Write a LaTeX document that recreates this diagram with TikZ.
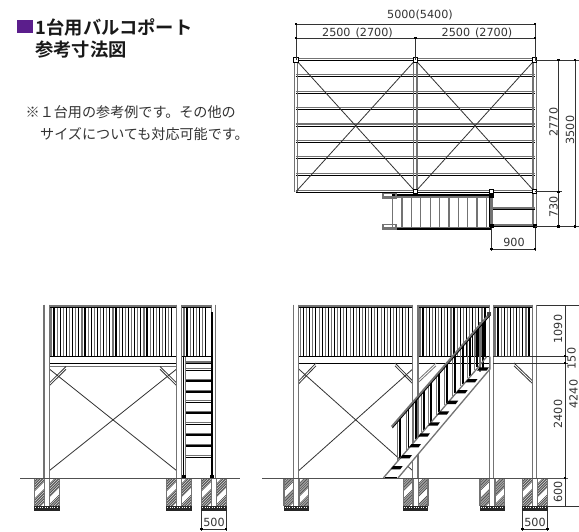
\documentclass[tikz,border=0pt]{standalone}
\usepackage{fontspec}
\setmainfont{DejaVu Sans}
\newfontfamily\jpb{Noto Sans CJK JP Bold}
\newfontfamily\jpr{Noto Sans CJK JP}
\definecolor{gl}{gray}{0.45}
\definecolor{ink}{gray}{0.2}
\definecolor{pur}{HTML}{5B1E8C}
\tikzset{
  blk/.style={line width=1.05pt,black},
  gry/.style={line width=1.3pt,gl},
  thin line/.style={line width=0.8pt,ink},
  dimline/.style={line width=0.65pt,ink},
  dimtext/.style={font=\fontsize{11.2}{12}\selectfont,text=ink,inner sep=0pt},
  postsq/.style={line width=1.1pt,black,fill=white},
  heavy/.style={line width=1.5pt,black}
}
\newcommand{\dimtick}[2]{\fill[black] (#1-1.4,#2-1.1) rectangle (#1+1.4,#2+1.1);}
\newcommand{\vpost}[4]{% xl xr ytop ybot
  \fill[white] (#1,#3) rectangle (#2,#4);
  \draw[gry] (#1,#3) -- (#1,#4);
  \draw[gry] (#2,#3) -- (#2,#4);}
\newcommand{\footing}[1]{% left x, width 24.5
  \begin{scope}
    \clip (#1,478) rectangle (#1+24.5,506);
    \foreach \k in {0,...,36}{
      \pgfmathtruncatemacro{\d}{mod(\k,13)<9?1:0}
      \ifnum\d=1
        \draw[line width=0.55pt,ink] (#1-2,480+\k*1.6) -- (#1+40,480+\k*1.6-42);
      \fi
    }
  \end{scope}
  \draw[gry] (#1,478) -- (#1,506) (#1+24.5,478) -- (#1+24.5,506);
  \fill[white] (#1+9.6,478) rectangle (#1+14.9,506);
  \draw[gry] (#1+9.6,478) -- (#1+9.6,506) (#1+14.9,478) -- (#1+14.9,506);
  \fill[black!85] (#1-0.5,506) rectangle (#1+25,511);
  \draw[white,line width=0.7pt,dash pattern=on 1pt off 1.4pt] (#1+0.5,507.6) -- (#1+24,507.6);
}
\newcommand{\balusters}[3]{% xstart xnext xend
  \foreach \x in {#1,#2,...,#3}{
    \draw[gry,line width=1.1pt] (\x,307) -- (\x,356);
    \draw[blk] (\x+3,307) -- (\x+3,356);
  }}
\begin{document}
\begin{tikzpicture}[x=1pt,y=-1pt]
\useasboundingbox (0,0) rectangle (579,532);
\fill[white] (0,0) rectangle (579,532);
% ---- texts
\fill[pur] (17,20) rectangle (32.5,33.5);
\node[anchor=west,inner sep=0pt,font=\jpb\fontsize{18.3}{20}\selectfont,text=black!90] (title1) at (35.5,27.5) {1台用バルコポート};
\node[anchor=west,inner sep=0pt,font=\jpb\fontsize{18.3}{20}\selectfont,text=black!90] (title2) at (35,50) {参考寸法図};
\node[anchor=west,inner sep=0pt,font=\jpr\fontsize{14.1}{15}\selectfont,text=ink] (note1) at (25.5,112) {※１台用の参考例です。その他の};
\node[anchor=west,inner sep=0pt,font=\jpr\fontsize{14.1}{15}\selectfont,text=ink] (note2) at (40,134) {サイズについても対応可能です。};
% ---- plan view
\foreach \y in {60,76,92.7,109,125.5,142,158.3,175,191.7}{
  \draw[gry] (296,\y-1.5) -- (534.7,\y-1.5);
  \draw[blk] (296,\y+0.6) -- (534.7,\y+0.6);
}
\draw[gry] (294.4,60) -- (294.4,191.7) (297.6,60) -- (297.6,191.7);
\draw[gry] (413.8,60) -- (413.8,191.7) (417,60) -- (417,191.7);
\draw[gry] (533.1,60) -- (533.1,226.5) (536.3,60) -- (536.3,226.5);
\draw[thin line] (296,60) -- (415.4,191.7) (415.4,60) -- (296,191.7);
\draw[thin line] (415.4,60) -- (534.7,191.7) (534.7,60) -- (415.4,191.7);
% plan extension
\draw[gry] (491.7,208) -- (534.7,208);
\draw[blk] (491.7,209.5) -- (534.7,209.5);
\draw[gry] (491.7,225) -- (534.7,225);
\draw[blk] (491.7,226.5) -- (534.7,226.5);
% plan stairs
\foreach \x in {392.3,402,411.6,420.9,430.3,439.6,449,458.3,467.6,477,486.6}{
  \draw[gry,line width=1.1pt] (\x,196) -- (\x,227);
}
\draw[gry] (382.7,197) -- (491,197);
\draw[gry] (382.7,227.5) -- (491,227.5);
\draw[blk] (392,195) -- (491,195);
\draw[blk] (392,229) -- (491,229);
\draw[gry,line width=1.5pt] (383,193.5) rectangle (396,198);
\draw[gry,line width=1.5pt] (383,224.5) rectangle (396,229);
\draw[gl,line width=2.2pt] (491.5,192) -- (491.5,227);
\draw[blk] (489.8,192) -- (489.8,227);
% plan posts
\foreach \x/\y in {296/60,415.4/60,534.7/60,415.4/191.7,491.7/191.7,534.7/191.7}{
  \draw[postsq] (\x-2.2,\y-2.2) rectangle (\x+2.2,\y+2.2);
}
\fill[black] (489.5,224.5) rectangle (493.5,228.5);
\fill[black] (532.7,224.5) rectangle (536.7,228.5);
\fill[black] (489.5,194.5) rectangle (493.5,198);
% plan dimensions
\draw[dimline] (296,24) -- (535,24);
\draw[dimline] (296,38) -- (535,38);
\draw[dimline] (296,24) -- (296,60) (535,24) -- (535,60) (415.4,38) -- (415.4,60);
\foreach \x/\y in {296/24,535/24,296/38,415.4/38,535/38}{\dimtick{\x}{\y}}
\node[dimtext] (d5000) at (420,15) {5000(5400)};
\node[dimtext] (d2500a) at (357.5,32.5) {2500\hspace{5pt}(2700)};
\node[dimtext] (d2500b) at (477,32.5) {2500\hspace{5pt}(2700)};
\draw[dimline] (535,60) -- (579,60);
\draw[dimline] (535,191.7) -- (562,191.7);
\draw[dimline] (535,226.5) -- (579,226.5);
\draw[dimline] (558.5,60) -- (558.5,226.5);
\draw[dimline] (575,60) -- (575,226.5);
\foreach \x/\y in {558.5/60,575/60,558.5/191.7,558.5/226.5,575/226.5}{\dimtick{\x}{\y}}
\node[dimtext,rotate=90,fill=white,inner sep=0.5pt] (d2770) at (553.5,122) {2770};
\node[dimtext,rotate=90] (d3500) at (570,130) {3500};
\node[dimtext,rotate=90] (d730) at (553.5,207) {730};
\draw[dimline] (491.7,228) -- (491.7,251) (535,228) -- (535,251) (491.7,249) -- (535,249);
\dimtick{491.7}{249}\dimtick{535}{249}
\node[dimtext] (d900) at (514,242) {900};
% ---- left elevation
\balusters{51}{57.2}{172}
\balusters{184}{190.2}{208}
\draw[gry] (44,306) -- (216,306);
\draw[blk] (44,307.5) -- (216,307.5);
\draw[blk] (49,356.3) -- (212,356.3);
\draw[blk] (49,363.3) -- (177,363.3);
\draw[gry] (49,366.7) -- (177,366.7);
\draw[thin line] (49.3,369) -- (176.7,470.7) (176.7,369) -- (49.3,470.7);
\foreach \o in {0,2.8}{
  \draw[thin line] (49.3,383+\o) -- (66,367+\o-0.5);
  \draw[thin line] (176.7,383+\o) -- (160,367+\o-0.5);
}
\vpost{44}{49.3}{304.5}{478}
\vpost{176.7}{181.3}{304.5}{478}
\vpost{211.7}{215.7}{304.5}{478}
% left stair
\fill[white] (183,357) rectangle (212,478);
\foreach \y in {363.5,370,380.7,391.7,402.3,412.7,424,434.7,445.7,457.3}{
  \draw[gry] (185,\y-1.5) -- (212,\y-1.5);
  \draw[blk] (185,\y+0.3) -- (212,\y+0.3);
}
\draw[black,line width=1.6pt] (183.3,356.5) -- (183.3,478);
\draw[gl,line width=1.3pt] (185.6,356.5) -- (185.6,478);
\draw[black,line width=1.1pt] (212,312) -- (212,478);
\draw[blk] (183,356.3) -- (212,356.3);
\fill[black] (182,475) rectangle (186,478);
\fill[black] (210,475) rectangle (214,478);
% left ground/footings
\footing{34.7}
\footing{166.7}
\footing{201.7}
\draw[line width=1pt,gl!70!black] (20,478) -- (240,478);
\draw[dimline] (201.7,511) -- (201.7,531) (226,511) -- (226,531) (201.7,529.3) -- (226,529.3);
\dimtick{201.7}{529.3}\dimtick{226}{529.3}
\node[dimtext] (d500a) at (214,522.5) {500};
% ---- right elevation
\balusters{300.5}{306.7}{408}
\balusters{420}{426.2}{484}
\balusters{495}{501.2}{528}
\draw[gry] (293.3,306) -- (536.7,306);
\draw[blk] (293.3,307.5) -- (536.7,307.5);
\draw[blk] (298.7,356.3) -- (533,356.3);
\draw[blk] (298.7,363.3) -- (533,363.3);
\draw[thin line] (298.7,369) -- (412.7,470.7) (412.7,369) -- (298.7,470.7);
\foreach \o in {0,2.8}{
  \draw[thin line] (298.7,381+\o) -- (316,364+\o-1);
  \draw[thin line] (412.7,381+\o) -- (395,364+\o-1);
  \draw[gl,line width=0.8pt] (418,380+\o) -- (436,364+\o-1);
  \draw[thin line] (532.7,381+\o) -- (514,364+\o-1);
}
\vpost{293.3}{298.7}{304.5}{478}
\vpost{412.7}{418}{304.5}{478}
\vpost{489.3}{493.3}{304.5}{478}
\vpost{532.7}{536.7}{304.5}{478}
% stair side view
\fill[white] (383.3,478) -- (398,478) -- (490,369) -- (476,369) -- cycle;
\foreach \x in {400,408.5,416,424,431,439,447,455,463,470,477}{
  \pgfmathsetmacro{\yb}{478-(\x-383.3)*1.18}
  \pgfmathsetmacro{\yt}{426.7-(\x-391.7)*1.146}
  \draw[gl,line width=1.1pt] (\x-2.2,\yb+2.5) -- (\x-2.2,\yt+2.5);
  \draw[blk] (\x,\yb) -- (\x,\yt);
}
\draw[black,line width=2.4pt] (483,320) -- (483,370);
\draw[gl,line width=1.1pt] (480,322) -- (480,372);
\draw[gl,line width=2pt] (391.7,426.7) -- (490,313.3);
\draw[black,line width=0.8pt] (392.4,428) -- (490.7,314.6);
\fill[gl!60!black] (487,311.5) rectangle (491,316);
\draw[gry] (383.3,478) -- (476.7,369) -- (486.7,356.7);
\draw[gry] (398,478) -- (490,369) -- (490,356.7);
\foreach \x/\y in {483/369,471.5/380.7,461.7/391.7,452.3/402.3,443.3/413,434/424,424/435,415/445.7,406/456.7,396.7/467.7}{
  \fill[black] (\x-6,\y+1.7) -- (\x+3.5,\y+1.7) -- (\x+6,\y-1.7) -- (\x-3.5,\y-1.7) -- cycle;
}
\draw[black,line width=1.5pt] (385,477.5) -- (397,477.5);
% right ground/footings
\footing{284}
\footing{403.4}
\footing{480}
\footing{522.7}
\draw[line width=1pt,gl!70!black] (262,478) -- (568,478);
% right dimensions
\draw[dimline] (536.7,305) -- (579,305);
\draw[dimline] (493,356.3) -- (568,356.3);
\draw[dimline] (493,363.3) -- (568,363.3);
\draw[dimline] (547,506.7) -- (579,506.7);
\draw[dimline] (565,305) -- (565,506.7);
\foreach \y in {356.3,363.3,478}{\dimtick{565}{\y}}
\node[dimtext,rotate=90] (d1090) at (558,329) {1090};
\node[dimtext,rotate=90] (d150) at (571.5,358.5) {150};
\node[dimtext,rotate=90] (d2400) at (558,414) {2400};
\node[dimtext,rotate=90] (d4240) at (573.5,394) {4240};
\node[dimtext,rotate=90] (d600) at (558,492) {600};
\draw[dimline] (522.7,511) -- (522.7,531) (547.3,511) -- (547.3,531) (522.7,529.3) -- (547.3,529.3);
\dimtick{522.7}{529.3}\dimtick{547.3}{529.3}
\node[dimtext] (d500b) at (535,522.5) {500};
\end{tikzpicture}
\end{document}
